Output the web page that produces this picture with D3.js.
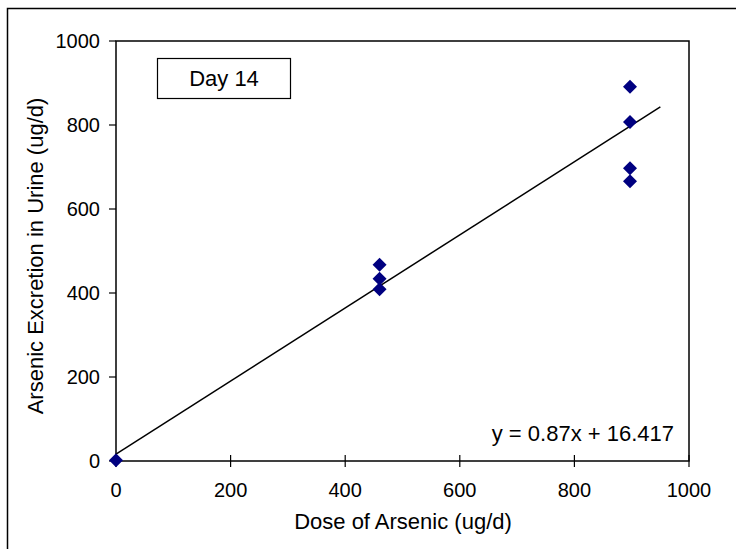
<!DOCTYPE html>
<html>
<head>
<meta charset="utf-8">
<script src="https://cdn.jsdelivr.net/npm/d3@7"></script>
<style>
  body { margin: 0; background: #fff; }
  text { font-family: "Liberation Sans", Arial, sans-serif; fill: #000; }
</style>
</head>
<body>
<svg class="chart" width="736" height="549"></svg>
<script>
// data
const doses = [0, 460, 460, 460, 897, 897, 897, 897];
const excretion = [2, 467, 434, 409, 891, 807, 697, 666];
const xTicks = [0, 200, 400, 600, 800, 1000];
const yTicks = [0, 200, 400, 600, 800, 1000];
const slope = 0.87, intercept = 16.417;
const trendRange = [0, 950];

const svg = d3.select(".chart");

// outer frame of the chart
svg.append("rect")
    .attr("x", 7.5).attr("y", 8.5)
    .attr("width", 740).attr("height", 560)
    .attr("fill", "none").attr("stroke", "#000").attr("stroke-width", 1.5);

const x = d3.scaleLinear().domain([0, 1000]).range([116, 689]);
const y = d3.scaleLinear().domain([0, 1000]).range([461, 41]);

// plot area box
svg.append("rect")
    .attr("x", x(0)).attr("y", y(1000))
    .attr("width", x(1000) - x(0)).attr("height", y(0) - y(1000))
    .attr("fill", "none").attr("stroke", "#000").attr("stroke-width", 1.5);

// x axis (ticks cross the axis)
const xg = svg.append("g").attr("transform", `translate(0,${y(0)})`);
xg.selectAll("line").data(xTicks).enter().append("line")
    .attr("x1", d => x(d)).attr("x2", d => x(d))
    .attr("y1", -6).attr("y2", 6)
    .attr("stroke", "#000").attr("stroke-width", 1.2);
xg.selectAll("text").data(xTicks).enter().append("text")
    .attr("x", d => x(d)).attr("y", 36)
    .attr("text-anchor", "middle")
    .style("font-size", "20px")
    .text(d => d);

// y axis (ticks outside)
const yg = svg.append("g").attr("transform", `translate(${x(0)},0)`);
yg.selectAll("line").data(yTicks).enter().append("line")
    .attr("x1", -7).attr("x2", 0)
    .attr("y1", d => y(d)).attr("y2", d => y(d))
    .attr("stroke", "#000").attr("stroke-width", 1.2);
yg.selectAll("text").data(yTicks).enter().append("text")
    .attr("x", -16).attr("y", d => y(d))
    .attr("dy", "0.35em")
    .attr("text-anchor", "end")
    .style("font-size", "20px")
    .text(d => d);

// axis titles
svg.append("text")
    .attr("x", 403).attr("y", 529)
    .attr("text-anchor", "middle")
    .style("font-size", "22px")
    .text("Dose of Arsenic (ug/d)");

svg.append("text")
    .attr("transform", "rotate(-90)")
    .attr("x", -256).attr("y", 43)
    .attr("text-anchor", "middle")
    .style("font-size", "22px")
    .text("Arsenic Excretion in Urine (ug/d)");

// linear trendline
const line = d3.line().x(d => x(d)).y(d => y(slope * d + intercept));
svg.append("path")
    .datum(trendRange)
    .attr("d", line)
    .attr("fill", "none").attr("stroke", "#000").attr("stroke-width", 1.5);

// data points (diamonds)
const diamond = d3.symbol().type(d3.symbolSquare).size(98);
svg.selectAll(".pt").data(doses).enter().append("path")
    .attr("class", "pt")
    .attr("d", diamond)
    .attr("transform", (d, i) => `translate(${x(d)},${y(excretion[i])}) rotate(45)`)
    .attr("fill", "#000080");

// label box
svg.append("rect")
    .attr("x", 157.5).attr("y", 58.5)
    .attr("width", 133).attr("height", 40)
    .attr("fill", "#fff").attr("stroke", "#000").attr("stroke-width", 1.2);
svg.append("text")
    .attr("x", 224).attr("y", 86)
    .attr("text-anchor", "middle")
    .style("font-size", "22px")
    .text("Day 14");

// equation
svg.append("text")
    .attr("x", 674).attr("y", 441)
    .attr("text-anchor", "end")
    .style("font-size", "22px")
    .text("y = 0.87x + 16.417");
</script>
</body>
</html>
